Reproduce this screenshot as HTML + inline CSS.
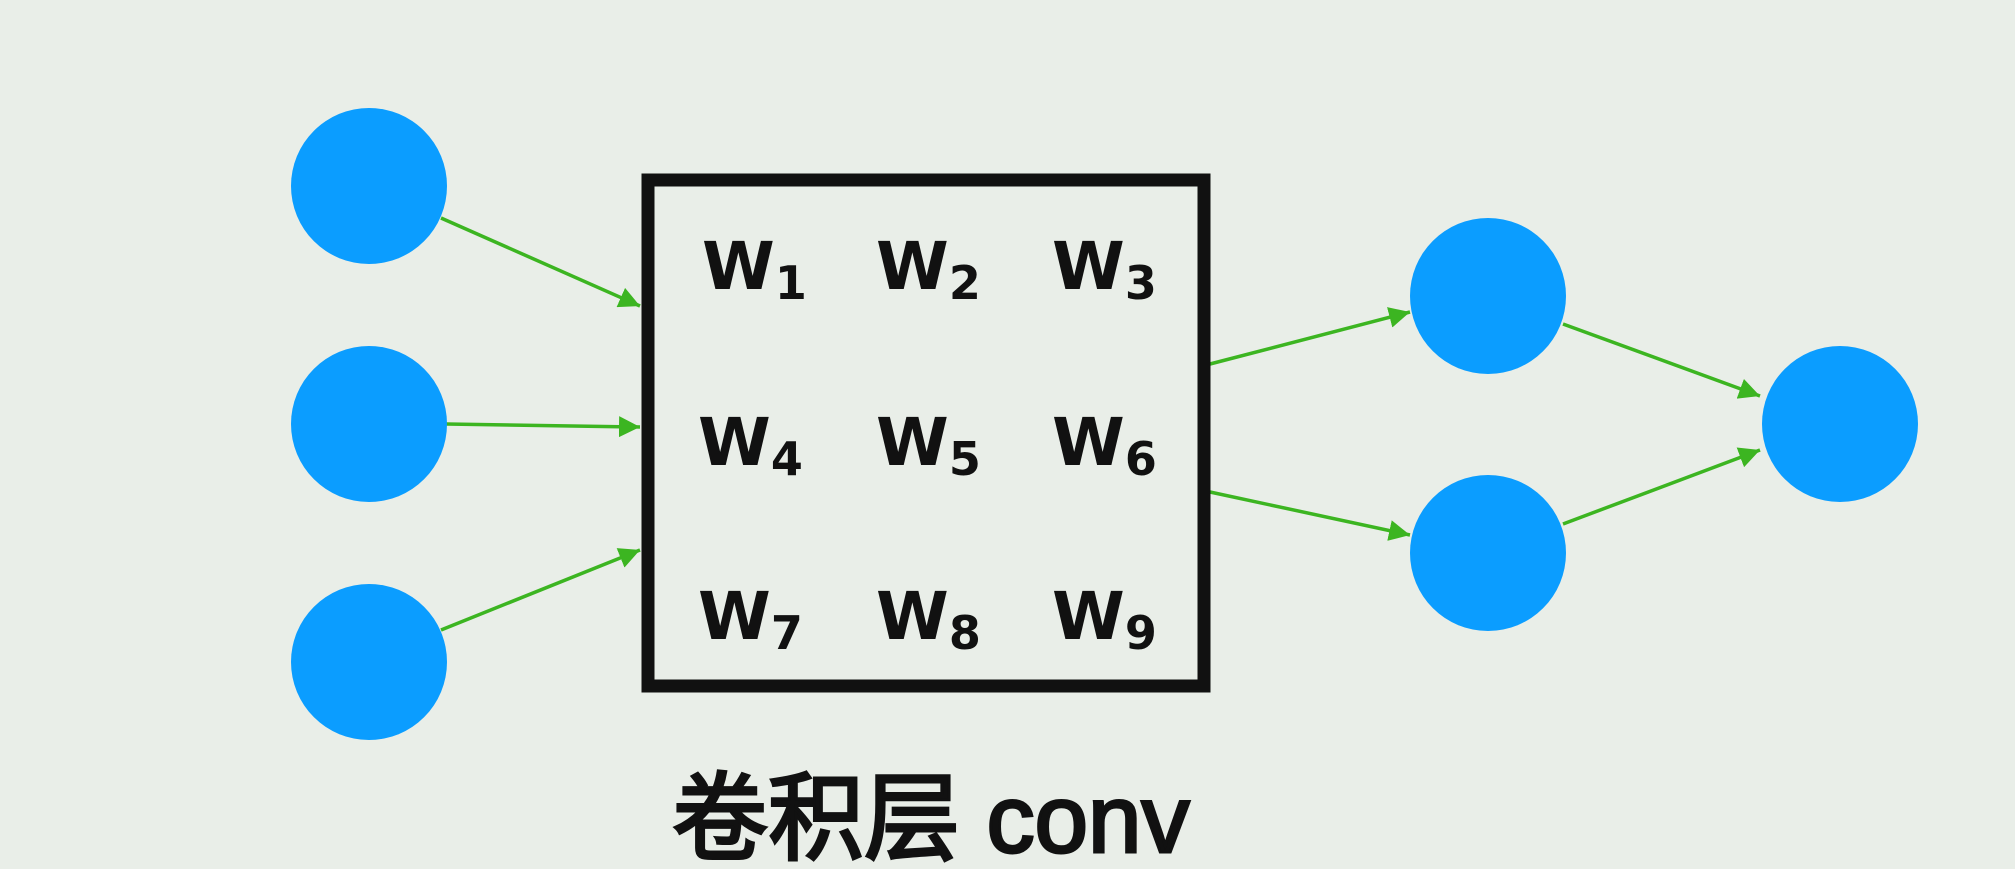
<!DOCTYPE html>
<html><head><meta charset="utf-8"><style>
html,body{margin:0;padding:0;background:#e9eee8;}
svg{display:block}
</style></head><body>
<svg width="2015" height="869" viewBox="0 0 2015 869" xmlns="http://www.w3.org/2000/svg">
<defs>
<marker id="a" viewBox="0 0 10 10" refX="10" refY="5" markerWidth="6" markerHeight="6" orient="auto" markerUnits="strokeWidth">
<path d="M0,0 L10,5 L0,10 z" fill="#3cb521"/></marker>
</defs>
<rect width="2015" height="869" fill="#e9eee8"/>
<g stroke="#3cb521" stroke-width="3.5" fill="none" marker-end="url(#a)">
<line x1="441" y1="218" x2="640" y2="306"/>
<line x1="446" y1="424" x2="640" y2="427"/>
<line x1="441" y1="630" x2="640" y2="550"/>
<line x1="1210" y1="364" x2="1410" y2="312"/>
<line x1="1210" y1="492" x2="1410" y2="535"/>
<line x1="1563" y1="324" x2="1760" y2="396"/>
<line x1="1563" y1="524" x2="1760" y2="450"/>
</g>
<g fill="#0b9dff">
<circle cx="369" cy="186" r="78"/>
<circle cx="369" cy="424" r="78"/>
<circle cx="369" cy="662" r="78"/>
<circle cx="1488" cy="296" r="78"/>
<circle cx="1488" cy="553" r="78"/>
<circle cx="1840" cy="424" r="78"/>
</g>
<rect x="648" y="180" width="556" height="506" fill="none" stroke="#111" stroke-width="13"/>
<g font-family="'DejaVu Sans','Liberation Sans',sans-serif" font-weight="bold" font-size="66" fill="#111">
<text x="702" y="289">W<tspan font-size="46" dy="10">1</tspan></text>
<text x="876" y="289">W<tspan font-size="46" dy="10">2</tspan></text>
<text x="1052" y="289">W<tspan font-size="46" dy="10">3</tspan></text>
<text x="698" y="465">W<tspan font-size="46" dy="10">4</tspan></text>
<text x="876" y="465">W<tspan font-size="46" dy="10">5</tspan></text>
<text x="1052" y="465">W<tspan font-size="46" dy="10">6</tspan></text>
<text x="698" y="639">W<tspan font-size="46" dy="10">7</tspan></text>
<text x="876" y="639">W<tspan font-size="46" dy="10">8</tspan></text>
<text x="1052" y="639">W<tspan font-size="46" dy="10">9</tspan></text>
</g>
<text x="672" y="852" font-family="'Liberation Sans','Noto Sans CJK SC',sans-serif" font-size="96" fill="#111" stroke="#111" stroke-width="3">卷积层 conv</text>
</svg>
</body></html>
